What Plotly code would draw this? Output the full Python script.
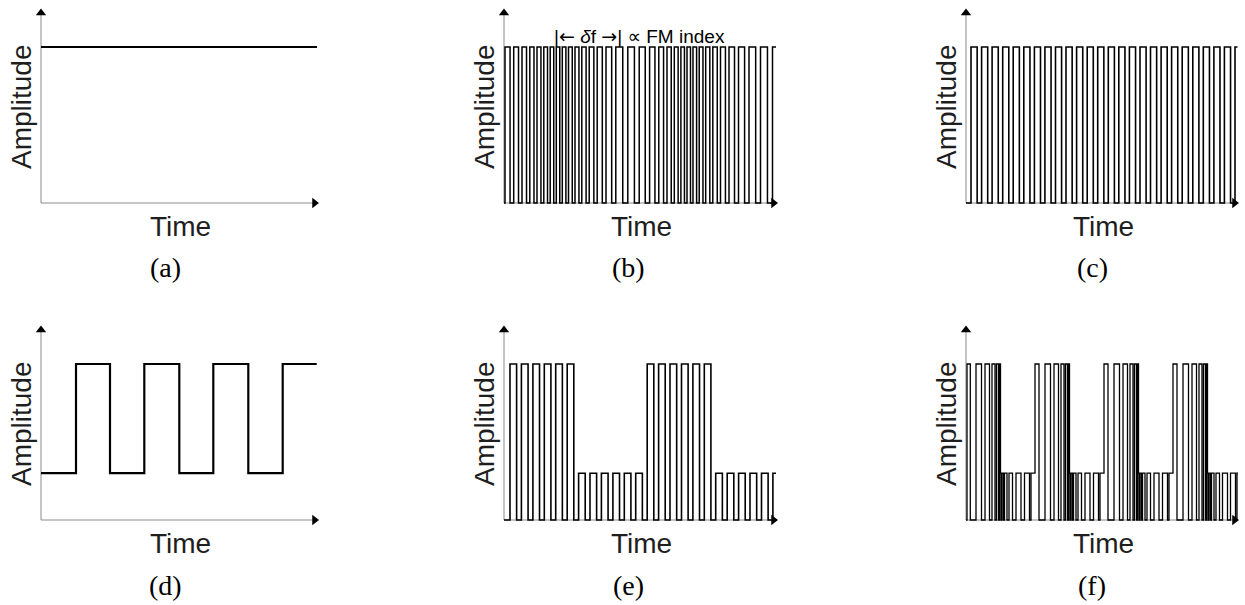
import plotly.graph_objects as go

# ---------------- data (time units ~ along each time axis) ----------------
HIGH = 1.0
LOW_AM = 0.3

a_times = [0.0, 276.0]
a_levels = [1.0, 1.0]

# (b) FM carrier: rising-edge times
b_rises = [1.0, 9.7, 18.0, 25.8, 33.0, 39.8, 46.2, 52.3, 58.3, 64.5, 71.0, 77.8,
           85.2, 93.2, 102.0, 111.8, 123.8, 135.2, 145.6, 154.8, 163.0, 170.3,
           176.9, 183.0, 189.0, 195.2, 201.7, 208.8, 216.5, 225.0, 234.5, 245.0,
           256.5, 268.5]
b_end = 272.0

# (c) constant-frequency carrier: rising-edge times
c_rises = [5.0, 15.6, 26.1, 36.7, 47.2, 57.8, 68.4, 78.9, 89.5, 100.0, 110.6,
           121.2, 131.7, 142.3, 152.8, 163.4, 174.0, 184.5, 195.1, 205.6, 216.2,
           226.8, 237.3, 247.9, 258.4, 269.0]
c_end = 271.5

# (d) modulating square wave: intervals at high level
d_high = [(35.0, 69.0), (103.3, 138.3), (172.3, 207.3), (241.7, 275.7)]
d_end = 275.7

# (e) AM: carrier rising edges + envelope high intervals
e_rises = [6.0, 17.4, 28.9, 40.3, 51.7, 63.2, 74.6, 86.0, 97.4, 108.9, 120.3,
           131.7, 143.2, 154.6, 166.0, 177.5, 188.9, 200.3, 211.7, 223.2, 234.6,
           246.0, 257.5, 268.9]
e_env_high = [(0.0, 72.0), (141.0, 209.5)]
e_end = 272.0

# (f) AM + FM: carrier pulses (start, end) + envelope high intervals
f_pulses = [(1.0, 4.3), (10.0, 15.5), (19.0, 23.5), (26.0, 29.0), (30.5, 32.5),
            (33.5, 35.0), (36.0, 37.5), (38.5, 41.0), (43.0, 46.5), (50.0, 55.0),
            (58.5, 63.5),
            (65.0, 73.0), (79.0, 84.5), (88.0, 92.5), (95.0, 98.0), (99.5, 101.5),
            (102.5, 104.0), (105.0, 106.5), (107.5, 110.0), (112.0, 115.5),
            (119.0, 124.0), (127.5, 132.5),
            (134.0, 142.0), (148.0, 153.5), (157.0, 161.5), (164.0, 167.0),
            (168.5, 170.5), (171.5, 173.0), (174.0, 175.5), (176.5, 179.0),
            (181.0, 184.5), (188.0, 193.0), (196.5, 201.5),
            (203.0, 211.0), (217.0, 222.5), (226.0, 230.5), (233.0, 236.0),
            (237.5, 239.5), (240.5, 242.0), (243.0, 244.5), (245.5, 248.0),
            (250.0, 253.5), (256.5, 261.5), (264.5, 269.5), (271.0, 272.0)]
f_env_high = [(0.0, 34.5), (69.0, 103.5), (138.0, 172.5), (207.0, 241.5)]
f_end = 272.0

panel_labels = ["(a)", "(b)", "(c)", "(d)", "(e)", "(f)"]
x_title = "Time"
y_title = "Amplitude"
_arrow = '<span style="font-family:DejaVu Sans">{}</span>'
fm_note = ("|" + _arrow.format("\u2190") + " <i>\u03b4</i>f " + _arrow.format("\u2192")
           + "| \u221d FM index")

# ---------------- style / layout ----------------
FIG_W, FIG_H = 1245, 605
DUTY = 0.58
col_x0 = [41, 504, 966]
col_w = [277, 273, 272]
row_y0 = [203, 520]
PX_PER_AMP = 156.0
YTOP_PX = 193.5
PAD = 4.0


def pulses_from_rises(rises, duty):
    out = []
    for i, r in enumerate(rises):
        p = rises[i + 1] - r if i + 1 < len(rises) else r - rises[i - 1]
        out.append((r, r + duty * p))
    return out


def step_xy(pulses, env_high, low, end):
    bps = {0.0, end}
    if pulses is not None:
        for r, f in pulses:
            bps |= {r, f}
    for a, b in env_high:
        bps |= {a, b}
    bps = sorted(b for b in bps if 0 <= b <= end)
    xs, ys = [], []
    for i in range(len(bps) - 1):
        m = 0.5 * (bps[i] + bps[i + 1])
        c = 1.0 if pulses is None else (1.0 if any(r <= m < f for r, f in pulses) else 0.0)
        e = HIGH if any(a <= m < b for a, b in env_high) else low
        xs.append(bps[i])
        ys.append(c * e)
    xs.append(end)
    ys.append(ys[-1])
    return xs, ys


series = []
series.append((a_times, a_levels))
series.append(step_xy(pulses_from_rises(b_rises, DUTY), [(0.0, b_end)], 0.0, b_end))
series.append(step_xy(pulses_from_rises(c_rises, DUTY), [(0.0, c_end)], 0.0, c_end))
series.append(step_xy(None, d_high, LOW_AM, d_end))
series.append(step_xy(pulses_from_rises(e_rises, DUTY), e_env_high, LOW_AM, e_end))
series.append(step_xy(f_pulses, f_env_high, LOW_AM, f_end))
line_widths = [2.2, 1.5, 1.6, 2.2, 1.6, 1.3]

fig = go.Figure()
layout = dict(width=FIG_W, height=FIG_H, margin=dict(l=0, r=0, t=0, b=0),
              paper_bgcolor="white", plot_bgcolor="white", showlegend=False)
shapes = []
annotations = []

for k in range(6):
    r, c = divmod(k, 3)
    n = k + 1
    xa = "xaxis" if n == 1 else f"xaxis{n}"
    ya = "yaxis" if n == 1 else f"yaxis{n}"
    xr = "x" if n == 1 else f"x{n}"
    yr = "y" if n == 1 else f"y{n}"
    x0, W = col_x0[c], col_w[c]
    y0 = row_y0[r]
    ytop = YTOP_PX / PX_PER_AMP
    pad_y = PAD / PX_PER_AMP
    layout[xa] = dict(domain=[(x0 - PAD) / FIG_W, (x0 + W + PAD) / FIG_W],
                      range=[-PAD, W + PAD], anchor=yr, visible=False, fixedrange=True)
    layout[ya] = dict(domain=[1 - (y0 + PAD) / FIG_H, 1 - (y0 - YTOP_PX - PAD) / FIG_H],
                      range=[-pad_y, ytop + pad_y], anchor=xr, visible=False, fixedrange=True)
    # axis lines
    shapes.append(dict(type="line", xref=xr, yref=yr, x0=0, x1=W - 2, y0=0, y1=0,
                       line=dict(color="#8a8a8a", width=1), layer="below"))
    shapes.append(dict(type="line", xref=xr, yref=yr, x0=0, x1=0, y0=0, y1=ytop - 2 / PX_PER_AMP,
                       line=dict(color="#8a8a8a", width=1), layer="below"))
    # arrow heads
    fig.add_trace(go.Scatter(x=[W - 3.5], y=[0], mode="markers", xaxis=xr, yaxis=yr,
                             marker=dict(symbol="triangle-right", size=9, color="black"),
                             cliponaxis=False, hoverinfo="skip"))
    fig.add_trace(go.Scatter(x=[0], y=[ytop - 3.5 / PX_PER_AMP], mode="markers", xaxis=xr, yaxis=yr,
                             marker=dict(symbol="triangle-up", size=9, color="black"),
                             cliponaxis=False, hoverinfo="skip"))
    # signal
    xs, ys = series[k]
    fig.add_trace(go.Scatter(x=xs, y=ys, mode="lines", xaxis=xr, yaxis=yr,
                             line=dict(color="black", width=line_widths[k], shape="hv"),
                             hoverinfo="skip"))
    # texts
    annotations.append(dict(text=y_title, xref="paper", yref="paper",
                            x=(x0 - 20) / FIG_W, y=1 - (y0 - 96) / FIG_H, textangle=-90,
                            showarrow=False, xanchor="center", yanchor="middle",
                            font=dict(family="Liberation Sans, Arial", size=28, color="#1e1e1e")))
    annotations.append(dict(text=x_title, xref="paper", yref="paper",
                            x=(x0 + W / 2 + 1) / FIG_W, y=1 - (y0 + 23) / FIG_H,
                            showarrow=False, xanchor="center", yanchor="middle",
                            font=dict(family="Liberation Sans, Arial", size=28, color="#1e1e1e")))
    annotations.append(dict(text=panel_labels[k], xref="paper", yref="paper",
                            x=(x0 + W / 2 - 14 + 2 * c) / FIG_W, y=1 - (y0 + 65) / FIG_H,
                            showarrow=False, xanchor="center", yanchor="middle",
                            font=dict(family="Liberation Serif, Times New Roman", size=28, color="black")))

annotations.append(dict(text=fm_note, xref="paper", yref="paper",
                        x=640 / FIG_W, y=1 - 36 / FIG_H, showarrow=False,
                        xanchor="center", yanchor="middle",
                        font=dict(family="Liberation Sans, DejaVu Sans, Arial", size=19, color="black")))

layout["shapes"] = shapes
layout["annotations"] = annotations
fig.update_layout(**layout)
fig.write_html("out.html")
